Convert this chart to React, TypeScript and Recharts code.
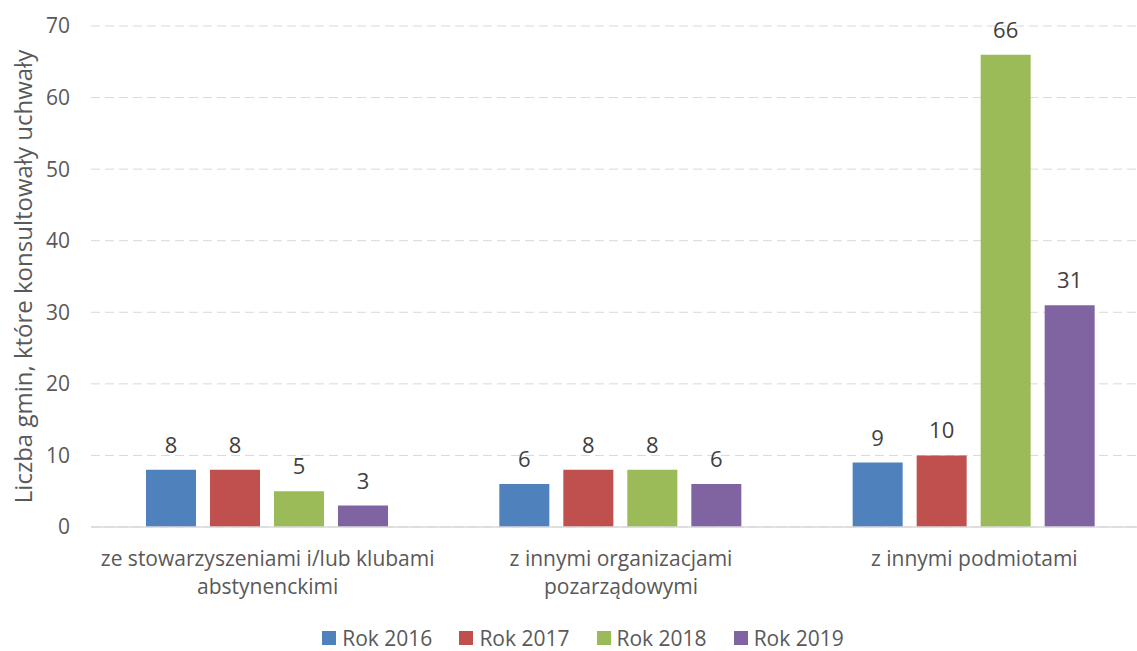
import React from 'react';
import { BarChart, Bar, XAxis, YAxis, CartesianGrid, Legend, LabelList } from 'recharts';

const categories = [
  'ze stowarzyszeniami i/lub klubami\nabstynenckimi',
  'z innymi organizacjami\npozarządowymi',
  'z innymi podmiotami',
];
const rok2016 = [8, 6, 9];
const rok2017 = [8, 8, 10];
const rok2018 = [5, 8, 66];
const rok2019 = [3, 6, 31];
const yTicks = [0, 10, 20, 30, 40, 50, 60, 70];

const series = [
  { key: 'Rok 2016', color: '#4F81BD', values: rok2016 },
  { key: 'Rok 2017', color: '#C0504D', values: rok2017 },
  { key: 'Rok 2018', color: '#9BBB59', values: rok2018 },
  { key: 'Rok 2019', color: '#8064A2', values: rok2019 },
];

const data = categories.map((name, i) => {
  const row: Record<string, string | number> = { name };
  series.forEach(s => { row[s.key] = s.values[i]; });
  return row;
});

const FONT = '"Open Sans", sans-serif';

const CategoryTick = (props: any) => {
  const { x, y, payload } = props;
  const lines = String(payload.value).split('\n');
  return (
    <text x={x} y={y} textAnchor="middle" fill="#595959" fontSize={21} fontFamily={FONT}>
      {lines.map((l, i) => (
        <tspan key={i} x={x} y={y + 31 + i * 28}>{l}</tspan>
      ))}
    </text>
  );
};

const LegendContent = () => (
  <div style={{ display: 'flex', justifyContent: 'center', fontFamily: FONT, fontSize: 21, color: '#595959', height: 24, lineHeight: '24px', alignItems: 'center', paddingLeft: 42 }}>
    {series.map(s => (
      <div key={s.key} style={{ display: 'flex', alignItems: 'center', marginRight: 27 }}>
        <span style={{ width: 14, height: 14, background: s.color, display: 'inline-block', marginRight: 6 }} />
        <span>{s.key}</span>
      </div>
    ))}
  </div>
);

export default function App() {
  return (
    <div style={{ position: 'absolute', left: 0, top: 0, width: 1137, height: 651, overflow: 'hidden', background: '#fff' }}>
      <BarChart
        width={1151}
        height={651}
        data={data}
        margin={{ top: 26, right: 0, left: 0, bottom: 1 }}
        barCategoryGap={55}
        barGap={14}
      >
        <CartesianGrid vertical={false} stroke="#D9D9D9" strokeDasharray="9 5" />
        <XAxis
          dataKey="name"
          height={99}
          axisLine={{ stroke: '#D9D9D9', strokeWidth: 1.5 }}
          tickLine={false}
          tick={<CategoryTick />}
          interval={0}
        />
        <YAxis
          width={91}
          domain={[0, 70]}
          ticks={yTicks}
          axisLine={false}
          tickLine={false}
          tickMargin={15}
          tick={{ fill: '#595959', fontSize: 21, fontFamily: FONT }}
          label={{
            value: 'Liczba gmin, które konsultowały uchwały',
            angle: -90,
            position: 'insideLeft',
            dx: 18,
            style: { textAnchor: 'middle', fill: '#595959', fontSize: 24, fontFamily: FONT },
          }}
        />
        <Legend verticalAlign="bottom" content={<LegendContent />} />
        {series.map(s => (
          <Bar key={s.key} dataKey={s.key} fill={s.color} isAnimationActive={false}>
            <LabelList dataKey={s.key} position="top" offset={17} fill="#404040" fontSize={22} fontFamily={FONT} />
          </Bar>
        ))}
      </BarChart>
    </div>
  );
}
